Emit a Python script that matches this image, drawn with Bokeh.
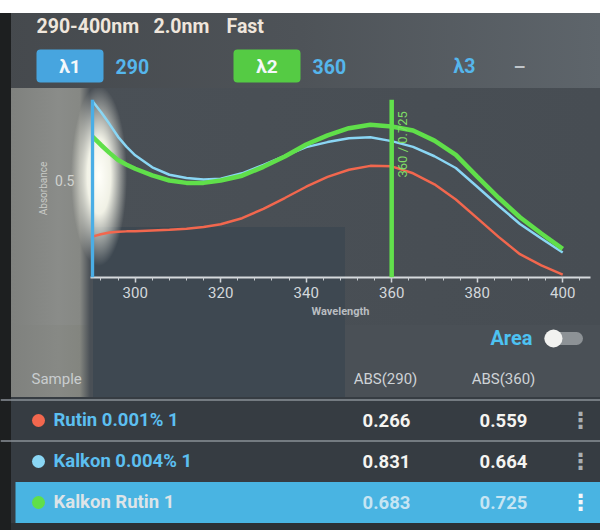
import math
from bokeh.plotting import figure
from bokeh.models import Range1d, FixedTicker, SingleIntervalTicker, Span, BoxAnnotation
from bokeh.layouts import column
from bokeh.embed import file_html
from bokeh.resources import INLINE
from bokeh.core.properties import value

# ---------------- data ----------------
wavelength = [290, 292, 294, 296, 298, 300, 304, 308, 312, 316, 320, 325, 330, 335,
              340, 345, 350, 355, 360, 365, 370, 375, 380, 385, 390, 395, 400]
abs_rutin = [0.266, 0.276, 0.283, 0.286, 0.288, 0.289, 0.292, 0.295, 0.299, 0.306, 0.318,
             0.343, 0.382, 0.427, 0.474, 0.515, 0.545, 0.561, 0.559, 0.530, 0.484, 0.421,
             0.343, 0.265, 0.193, 0.146, 0.108]
abs_kalkon = [0.831, 0.785, 0.735, 0.682, 0.640, 0.605, 0.555, 0.524, 0.510, 0.504, 0.507,
              0.530, 0.565, 0.603, 0.639, 0.660, 0.676, 0.680, 0.664, 0.640, 0.601, 0.552,
              0.474, 0.395, 0.319, 0.258, 0.200]
abs_kalkon_rutin = [0.683, 0.648, 0.615, 0.585, 0.566, 0.549, 0.521, 0.500, 0.490, 0.490,
                    0.500, 0.520, 0.557, 0.600, 0.650, 0.688, 0.718, 0.732, 0.725, 0.708,
                    0.666, 0.607, 0.516, 0.428, 0.347, 0.279, 0.215]

samples = ["Rutin 0.001% 1", "Kalkon 0.004% 1", "Kalkon Rutin 1"]
abs_290 = [0.266, 0.831, 0.683]
abs_360 = [0.559, 0.664, 0.725]
sample_colors = ["#f2674e", "#8ad6f4", "#60df4a"]
selected = 2
lambda1 = 290
lambda2 = 360
scan_range = "290-400nm"
step = "2.0nm"
speed = "Fast"

W = 600
FONT = value("Roboto")
BEZEL = "linear-gradient(to right, #1d1f20 0px, #1d1f20 11px, transparent 11px)"

# ---------------- header ----------------
header = figure(width=W, height=88, x_range=Range1d(0, W), y_range=Range1d(88, 0),
                x_axis_type=None, y_axis_type=None, min_border=0,
                output_backend="svg", toolbar_location=None,
                styles={"background": "linear-gradient(to bottom, #ffffff 0px, #ffffff 13px, transparent 13px), "
                        + BEZEL + ", linear-gradient(to right, #45494d 0%, #4e5358 50%, #5e656b 100%)"})
header.outline_line_color = None
header.background_fill_alpha = 0
header.border_fill_alpha = 0
header.grid.visible = False

header.add_layout(BoxAnnotation(left=36, right=103, top=49, bottom=82, fill_color="#47a5df",
                                fill_alpha=1, line_color=None, border_radius=4, level="underlay"))
header.add_layout(BoxAnnotation(left=233, right=300, top=49, bottom=82, fill_color="#55cb44",
                                fill_alpha=1, line_color=None, border_radius=4, level="underlay"))
header.text(x=[36, 153, 226], y=[26, 26, 26], text=[scan_range, step, speed],
            text_color="#efe6dc", text_font=FONT, text_font_size="19.5px",
            text_font_style="bold", text_baseline="middle", text_align="left")
header.text(x=[69.5, 266.5], y=[66, 66], text=["λ1", "λ2"], text_color="#f4f8fa",
            text_font=FONT, text_font_size="19px", text_font_style="bold",
            text_baseline="middle", text_align="center")
header.text(x=[115, 312, 453], y=[66, 66, 66], text=[str(lambda1), str(lambda2), "λ3"],
            text_color="#55b6ec", text_font=FONT, text_font_size="19.5px", text_font_style="bold",
            text_baseline="middle", text_align="left")
header.text(x=[513], y=[66], text=["–"], text_color="#c0c5ca", text_font=FONT,
            text_font_size="19px", text_font_style="bold", text_baseline="middle", text_align="left")

# ---------------- chart ----------------
chart_bg = ", ".join([
    BEZEL,
    "radial-gradient(ellipse 28px 90px at 99px 88px, rgba(255,255,250,1) 0%, rgba(255,255,242,0.92) 42%, rgba(235,235,220,0) 100%)",
    "linear-gradient(#3e4851, #3e4851) 93px 139px / 252px 98px no-repeat",
    "linear-gradient(to right, #1d1f20 0px, #1d1f20 11px, #7f817e 11px, #8a8c89 58px, #868884 80px, #4a5056 90px, #474d53 100%)",
])
chart = figure(width=W, height=237, x_range=Range1d(289.55, 406.5), y_range=Range1d(0.0958, 0.8375),
               min_border_left=90, min_border_right=10, min_border_top=11, min_border_bottom=48,
               output_backend="svg", toolbar_location=None, styles={"background": chart_bg})
chart.outline_line_color = None
chart.background_fill_alpha = 0
chart.border_fill_alpha = 0
chart.grid.visible = False

chart.line(wavelength, abs_rutin, color=sample_colors[0], line_width=2.5)
chart.line(wavelength, abs_kalkon, color=sample_colors[1], line_width=2.5)
chart.line(wavelength, abs_kalkon_rutin, color=sample_colors[2], line_width=4.5)

chart.add_layout(Span(location=lambda1, dimension="height", line_color="#4aaee6", line_width=3.5))
chart.add_layout(Span(location=lambda2, dimension="height", line_color="#62e04c", line_width=4.5))
chart.text(x=[lambda2], y=[0.5125], text=[f"{lambda2} / {abs_360[selected]:.3f}"],
           angle=math.pi / 2, x_offset=3, text_align="left", text_baseline="top",
           text_color="#7edc66", text_font_size="13px", text_font=FONT)

xa = chart.xaxis[0]
xa.ticker = SingleIntervalTicker(interval=20, num_minor_ticks=5)
xa.axis_line_color = "#d6dadd"
xa.axis_line_width = 2
xa.major_tick_line_color = "#d6dadd"
xa.major_tick_line_width = 1.5
xa.major_tick_in = 0
xa.major_tick_out = 5
xa.minor_tick_line_color = "#c8ccd0"
xa.minor_tick_in = 0
xa.minor_tick_out = 3
xa.major_label_text_color = "#d4d8dc"
xa.major_label_text_font = "Roboto"
xa.major_label_text_font_size = "15px"
xa.major_label_standoff = 4
xa.axis_label = "Wavelength"
xa.axis_label_text_font = "Roboto"
xa.axis_label_text_font_size = "11px"
xa.axis_label_text_font_style = "bold"
xa.axis_label_text_color = "#b9bdc0"
xa.axis_label_standoff = 4

ya = chart.yaxis[0]
ya.ticker = FixedTicker(ticks=[0.5], minor_ticks=[])
ya.axis_line_color = None
ya.major_tick_line_color = None
ya.minor_tick_line_color = None
ya.major_tick_out = 0
ya.major_tick_in = 0
ya.major_label_text_color = "#d0d2cf"
ya.major_label_text_font = "Roboto"
ya.major_label_text_font_size = "14px"
ya.major_label_standoff = 16
ya.axis_label = "Absorbance"
ya.axis_label_text_font = "Roboto"
ya.axis_label_text_font_size = "10px"
ya.axis_label_text_font_style = "normal"
ya.axis_label_text_color = "#c8cac6"
ya.axis_label_standoff = 3

# ---------------- table ----------------
table_bg = ", ".join([
    BEZEL,
    "linear-gradient(#2c3034, #2c3034) 11px 198px / 589px 7px no-repeat",
    "linear-gradient(#363c42, #363c42) 11px 72px / 589px 126px no-repeat",
    "linear-gradient(#3e4851, #3e4851) 93px 0px / 252px 72px no-repeat",
    "linear-gradient(to right, #7f817e 0px, #878985 47px, #83857f 69px, #4a5056 79px) 11px 0px / 81px 72px no-repeat",
    "#4a5056",
])
table = figure(width=W, height=205, x_range=Range1d(0, W), y_range=Range1d(4.683, -0.317),
               x_axis_type=None, y_axis_type=None, min_border=0,
               output_backend="svg", toolbar_location=None, styles={"background": table_bg})
table.outline_line_color = None
table.background_fill_alpha = 0
table.border_fill_alpha = 0
table.grid.visible = False

row_y = [2 + i for i in range(len(samples))]

# Area toggle
table.text(x=[532], y=[0], text=["Area"], text_color="#4dc2f2", text_font=FONT,
           text_font_size="20px", text_font_style="bold", text_baseline="middle", text_align="right")
table.line(x=[550, 576], y=[0, 0], line_width=13, line_cap="round", color="#8d9296")
table.scatter(x=[553], y=[0], size=18, color="#f2f2f0", line_color=None)

# header row
table.text(x=[31], y=[1], text=["Sample"], text_color="#c9cdcf", text_font=FONT,
           text_font_size="15px", text_baseline="middle", text_align="left")
table.text(x=[385, 503], y=[1, 1], text=[f"ABS({lambda1})", f"ABS({lambda2})"], text_color="#cfd3d6",
           text_font=FONT, text_font_size="15px", text_baseline="middle", text_align="center")

# separators
for loc in [1.5, 2.5]:
    table.add_layout(Span(location=loc, dimension="width", line_color="#8a9197", line_width=1.5))

# selected row band
table.hbar(y=[row_y[selected]], left=15, right=W, height=1.0, fill_color="#49b4e2", line_color=None)

name_colors = ["#dde4e8" if i == selected else "#5cbff0" for i in range(len(samples))]
val_colors = ["#c6e5f3" if i == selected else "#f5f4f1" for i in range(len(samples))]
menu_colors = ["#f4f8fa" if i == selected else "#a9aeb2" for i in range(len(samples))]

table.scatter(x=[38] * len(samples), y=row_y, size=13, color=sample_colors, line_color=None)
table.text(x=[53] * len(samples), y=row_y, text=samples, text_color=name_colors, text_font=FONT,
           text_font_size="18.5px", text_font_style="bold", text_baseline="middle", text_align="left")
table.text(x=[386] * len(samples), y=row_y, text=[f"{v:.3f}" for v in abs_290], text_color=val_colors,
           text_font=FONT, text_font_size="18.5px", text_font_style="bold",
           text_baseline="middle", text_align="center")
table.text(x=[503] * len(samples), y=row_y, text=[f"{v:.3f}" for v in abs_360], text_color=val_colors,
           text_font=FONT, text_font_size="18.5px", text_font_style="bold",
           text_baseline="middle", text_align="center")
table.text(x=[580] * len(samples), y=row_y, text=["⋮"] * len(samples), text_color=menu_colors,
           text_font=value("DejaVu Sans"), text_font_size="22px", text_font_style="bold",
           text_baseline="middle", text_align="center")

layout = column(header, column(chart, spacing=0), table, spacing=0)
open("out.html", "w").write(file_html(layout, INLINE))
